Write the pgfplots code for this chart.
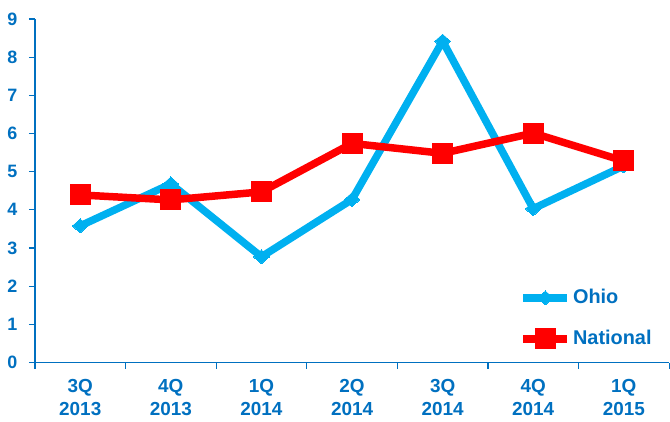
\documentclass[border=0pt]{standalone}
\usepackage{pgfplots}
\pgfplotsset{compat=1.18}
\usepackage{fontspec}
\setmainfont{Liberation Sans}
\definecolor{axblue}{HTML}{0070C0}
\definecolor{ohio}{HTML}{00B0F0}
\definecolor{natred}{HTML}{FF0000}
\begin{document}
\begin{tikzpicture}
\begin{axis}[
    scale only axis,
    width=635bp, height=344bp,
    xmin=-0.5, xmax=6.5, ymin=0, ymax=9,
    axis x line*=bottom, axis y line*=left,
    axis line style={axblue, line width=1.8bp, -},
    xtick={0,...,6},
    xticklabels={{3Q\\2013},{4Q\\2013},{1Q\\2014},{2Q\\2014},{3Q\\2014},{4Q\\2014},{1Q\\2015}},
    xticklabel style={align=center, font=\bfseries\fontsize{19}{23}\selectfont, text=axblue, yshift=-7bp},
    major x tick style={draw=none},
    minor xtick={-0.5,0.5,...,6.5},
    minor x tick style={axblue, line width=1.2bp},
    minor tick length=6bp,
    ytick={0,...,9},
    yticklabels={0,1,2,3,4,5,6,7,8,9},
    yticklabel style={font=\bfseries\fontsize{18}{20}\selectfont, text=axblue, xshift=-8bp},
    major y tick style={axblue, line width=1.2bp},
    major tick length=6bp,
    tick align=outside,
    legend style={draw=none, fill=none, at={(0.764,0.035)}, anchor=south west, inner sep=0pt,
        font=\bfseries\fontsize{20}{22}\selectfont, text=axblue, row sep=18bp,
        nodes={text height=15bp, text depth=4bp, inner sep=2bp}},
    legend cell align=left,
    legend image code/.code={\draw[mark repeat=2,mark phase=2] plot coordinates {(0bp,0bp) (22bp,0bp) (44bp,0bp)};},
    clip=false,
]
\addplot[ohio, line width=7.5bp, line join=round, mark=diamond*, mark size=7bp, mark options={line width=0bp, xscale=1.5}] coordinates {
(0,3.58) (1,4.68) (2,2.77) (3,4.27) (4,8.42) (5,4.03) (6,5.15)
};
\addlegendentry{Ohio}
\addplot[natred, line width=7.5bp, line join=round, mark=square*, mark size=10bp, mark options={line width=0bp}] coordinates {
(0,4.39) (1,4.26) (2,4.47) (3,5.74) (4,5.48) (5,6.01) (6,5.28)
};
\addlegendentry{National}
\path (rel axis cs:0,0) ++(-35bp,-59bp) coordinate (bbl);
\path (rel axis cs:1,1) ++(0bp,19bp) coordinate (bbr);
\end{axis}
\useasboundingbox (bbl) rectangle (bbr);
\end{tikzpicture}
\end{document}
